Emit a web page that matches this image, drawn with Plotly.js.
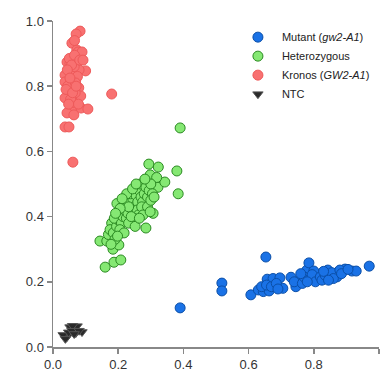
<!DOCTYPE html>
<html>
<head>
<meta charset="utf-8">
<script src="https://cdn.plot.ly/plotly-3.0.1.min.js"></script>
<style>html,body{margin:0;padding:0;background:#fff;}#chart{width:383px;height:372px;}</style>
</head>
<body>
<div id="chart"></div>
<script>
var seriesNames = ['Mutant (<i>gw2-A1</i>)', 'Heterozygous', 'Kronos (<i>GW2-A1</i>)', 'NTC'];
var tickVals = [0, 0.2, 0.4, 0.6, 0.8, 1.0];
var tickLabels = ['0.0', '0.2', '0.4', '0.6', '0.8', '1.0'];

var mutantPts = [[0.390,0.120],[0.518,0.196],[0.518,0.172],[0.653,0.276],[0.607,0.160],[0.970,0.248],
 [0.630,0.175],[0.645,0.170],[0.663,0.172],[0.657,0.208],[0.675,0.210],[0.696,0.212],[0.705,0.180],
 [0.730,0.214],[0.745,0.185],[0.758,0.205],[0.779,0.236],[0.785,0.258],[0.800,0.233],[0.813,0.208],
 [0.843,0.236],[0.874,0.230],[0.896,0.239],[0.917,0.233],[0.930,0.233],[0.871,0.215],
 [0.640,0.185],[0.655,0.190],[0.670,0.185],[0.685,0.195],[0.690,0.178],[0.740,0.200],[0.765,0.195],
 [0.770,0.215],[0.790,0.210],[0.795,0.222],[0.805,0.200],[0.820,0.215],[0.825,0.205],[0.835,0.220],
 [0.850,0.218],[0.855,0.228],[0.860,0.210],[0.880,0.236],[0.885,0.225],[0.905,0.238],[0.760,0.225],
 [0.830,0.232],[0.780,0.200],[0.845,0.205]];

var hetPts = [[0.160,0.245],[0.187,0.260],[0.208,0.267],[0.144,0.325],[0.165,0.325],[0.184,0.300],
 [0.202,0.313],[0.180,0.380],[0.196,0.440],[0.285,0.365],[0.307,0.410],[0.322,0.490],[0.343,0.506],
 [0.294,0.561],[0.323,0.552],[0.298,0.528],[0.318,0.520],[0.290,0.497],[0.277,0.476],[0.390,0.672],
 [0.380,0.540],[0.384,0.470],
 [0.170,0.345],[0.175,0.360],[0.185,0.350],[0.190,0.330],[0.178,0.315],[0.195,0.370],[0.200,0.390],
 [0.188,0.395],[0.205,0.410],[0.210,0.380],[0.215,0.400],[0.205,0.360],[0.220,0.420],[0.225,0.395],
 [0.212,0.430],[0.230,0.410],[0.235,0.440],[0.228,0.450],[0.240,0.425],[0.245,0.455],[0.250,0.430],
 [0.238,0.470],[0.255,0.465],[0.260,0.445],[0.265,0.480],[0.258,0.420],[0.270,0.460],[0.275,0.445],
 [0.268,0.500],[0.280,0.470],[0.285,0.490],[0.290,0.460],[0.295,0.480],[0.300,0.500],[0.305,0.470],
 [0.282,0.515],[0.262,0.405],[0.248,0.395],[0.232,0.380],[0.218,0.350],[0.198,0.340],[0.226,0.470],
 [0.244,0.485],[0.272,0.430],[0.255,0.500],[0.290,0.430],[0.300,0.450],[0.310,0.460],[0.232,0.430],
 [0.212,0.455],[0.206,0.425],[0.192,0.410],[0.276,0.405],[0.252,0.370],[0.240,0.400],[0.265,0.395],
 [0.298,0.415]];

var kronosPts = [[0.083,0.969],[0.071,0.960],[0.058,0.932],[0.073,0.911],[0.077,0.905],[0.089,0.905],
 [0.043,0.874],[0.052,0.870],[0.100,0.847],[0.080,0.850],[0.037,0.834],[0.058,0.838],[0.065,0.860],
 [0.037,0.813],[0.070,0.820],[0.046,0.790],[0.079,0.795],[0.060,0.800],[0.180,0.776],[0.037,0.764],
 [0.073,0.760],[0.085,0.770],[0.058,0.733],[0.086,0.733],[0.107,0.730],[0.043,0.718],[0.064,0.712],
 [0.037,0.675],[0.049,0.675],[0.061,0.567],[0.050,0.885],[0.066,0.895],[0.055,0.815],[0.045,0.800],
 [0.075,0.830],[0.068,0.780],[0.040,0.790],[0.062,0.750],[0.054,0.760],[0.078,0.745],[0.048,0.745],
 [0.069,0.810],[0.057,0.865],[0.082,0.880],[0.044,0.850],[0.066,0.940],[0.092,0.880],[0.052,0.825],
 [0.060,0.780],[0.071,0.800]];

var ntcPts = [[0.043,0.031],[0.052,0.061],[0.074,0.064],[0.089,0.046],[0.031,0.037],[0.070,0.043],
 [0.060,0.065],[0.048,0.045],[0.058,0.050],[0.080,0.050],[0.038,0.025],[0.065,0.040]];

function xs(p){return p.map(function(d){return d[0];});}
function ys(p){return p.map(function(d){return d[1];});}

var traces = [
 {x: xs(mutantPts), y: ys(mutantPts), name: seriesNames[0], type:'scatter', mode:'markers',
  marker:{size:10, color:'#1a72e6', line:{color:'#0b4fa8', width:1}}},
 {x: xs(hetPts), y: ys(hetPts), name: seriesNames[1], type:'scatter', mode:'markers',
  marker:{size:10, color:'#85e873', line:{color:'#2b8a22', width:1}}},
 {x: xs(kronosPts), y: ys(kronosPts), name: seriesNames[2], type:'scatter', mode:'markers',
  marker:{size:10, color:'#f87171', line:{color:'#ee5a5a', width:1}}},
 {x: xs(ntcPts), y: ys(ntcPts), name: seriesNames[3], type:'scatter', mode:'markers',
  marker:{size:9, symbol:'triangle-down', color:'#2a2a2a', line:{color:'#555', width:1}}}
];

var axisCommon = {
 range:[0,1], tickvals: tickVals, ticktext: tickLabels, showline:true, linecolor:'#888', linewidth:1.5,
 ticks:'outside', ticklen:5, tickcolor:'#888', tickwidth:1.5, showgrid:false, zeroline:false,
 tickfont:{family:'Liberation Sans, Arial, sans-serif', size:13, color:'#333'}
};

var layout = {
 width:383, height:372,
 margin:{l:53, r:4, t:21, b:25, pad:0},
 paper_bgcolor:'#ffffff', plot_bgcolor:'#ffffff',
 showlegend:true,
 legend:{x:0.555, y:0.995, xanchor:'left', yanchor:'top', bgcolor:'rgba(0,0,0,0)', itemwidth:38,
  font:{family:'Liberation Sans, Arial, sans-serif', size:11, color:'#222'}, tracegroupgap:0, itemsizing:'trace'},
 xaxis: Object.assign({}, axisCommon),
 yaxis: Object.assign({}, axisCommon)
};

Plotly.newPlot('chart', traces, layout, {displayModeBar:false, staticPlot:true});
</script>
</body>
</html>
